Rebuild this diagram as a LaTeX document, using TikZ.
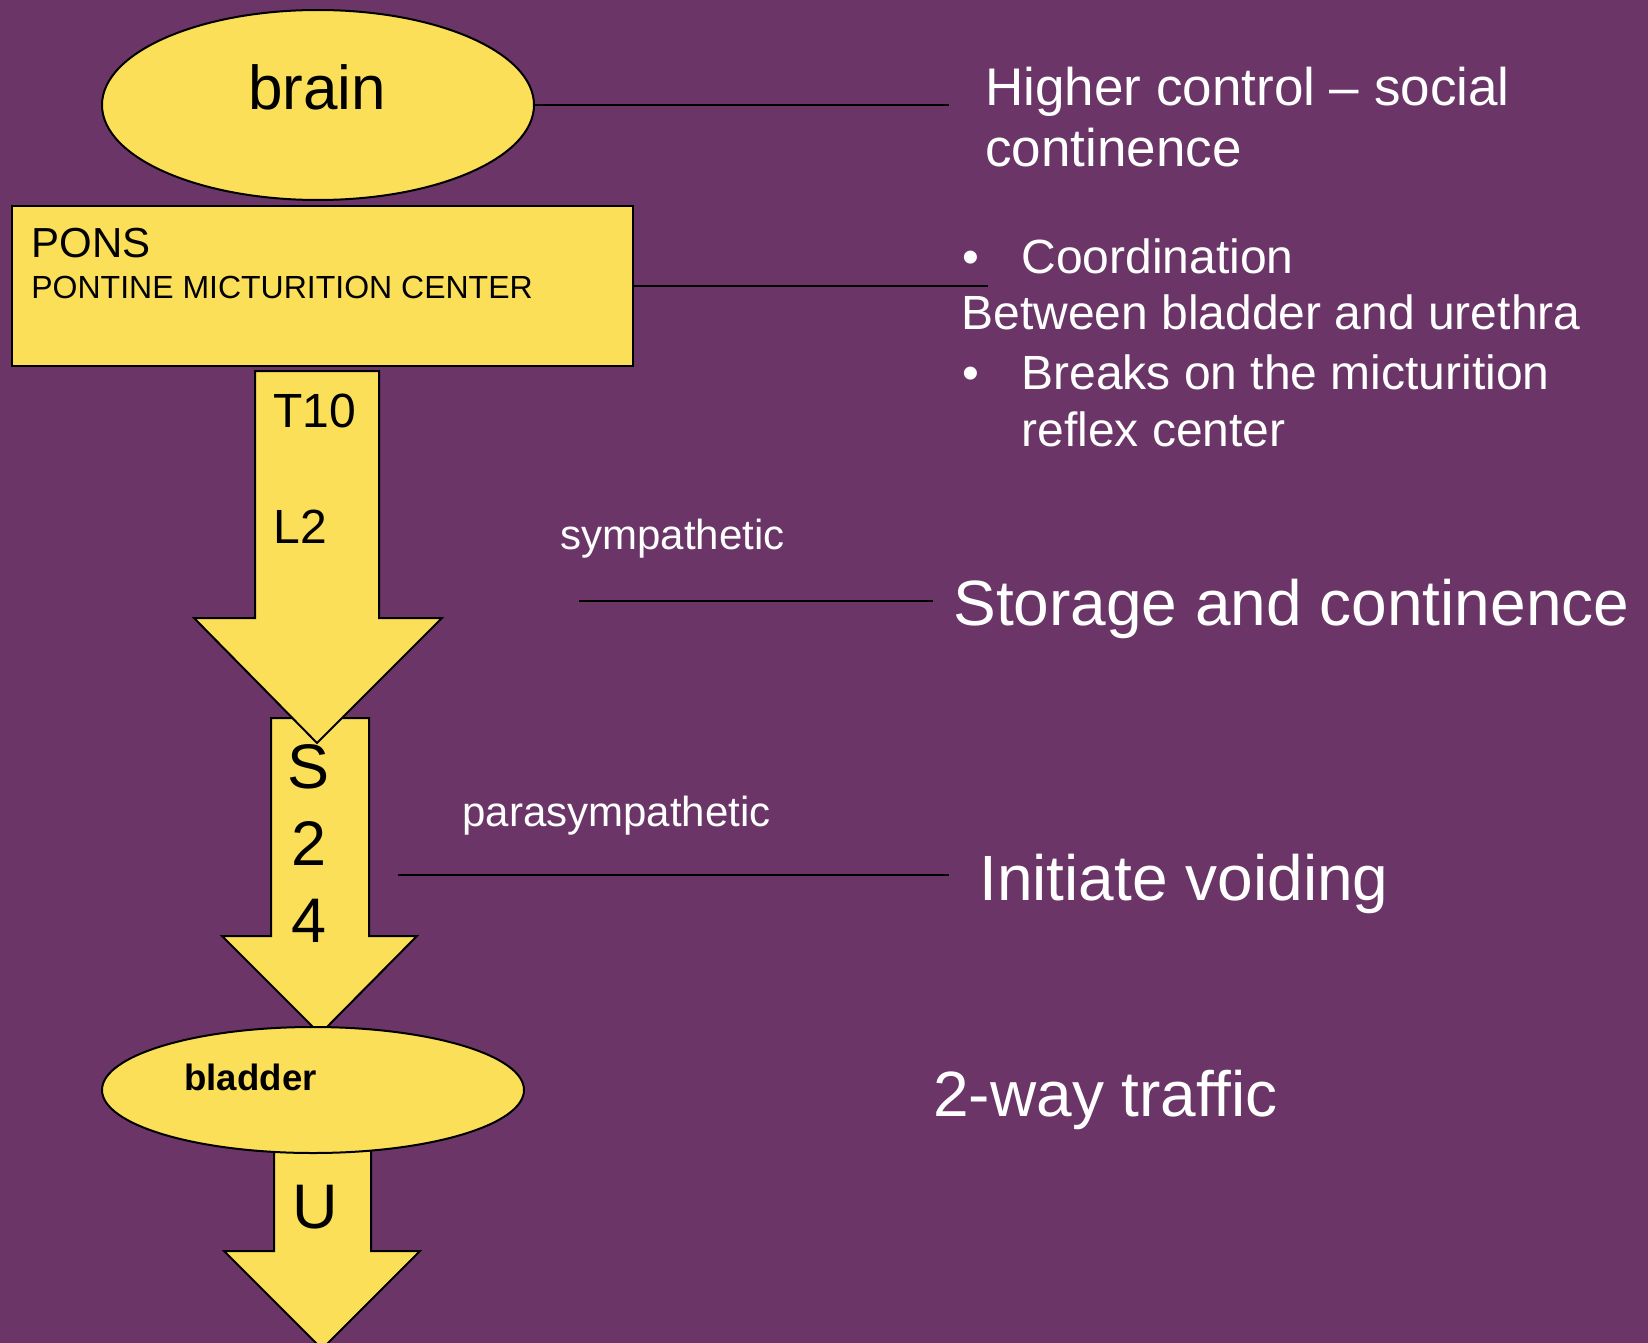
\documentclass[tikz,border=0pt]{standalone}
\usepackage{fontspec}
\setmainfont{Liberation Sans}
\usetikzlibrary{shapes.geometric}
\definecolor{slidePurple}{RGB}{107, 54, 103}
\definecolor{slideYellow}{RGB}{251, 223, 88}
\newcommand{\sizeHuge}{\fontsize{32}{38}\selectfont}
\newcommand{\sizeBrain}{\fontsize{31}{37}\selectfont}
\newcommand{\sizeSpine}{\fontsize{31.5}{37}\selectfont}
\newcommand{\sizeNote}{\fontsize{26.5}{31}\selectfont}
\newcommand{\sizeList}{\fontsize{24}{29}\selectfont}
\newcommand{\sizeSmall}{\fontsize{21}{25}\selectfont}
\newcommand{\sizeTiny}{\fontsize{16}{19}\selectfont}
\newcommand{\sizeBladder}{\fontsize{18.3}{22}\selectfont}
\tikzset{
  yellowShape/.style = {draw = black, line width = 1pt, fill = slideYellow},
  whiteText/.style = {text = white, anchor = base west, inner sep = 0pt},
  blackText/.style = {text = black, anchor = base west, inner sep = 0pt},
  thinLine/.style = {draw = black, line width = 1pt},
}

\begin{document}
\begin{tikzpicture}[x = .5pt, y = -.5pt]
\useasboundingbox (0, 0) rectangle (1648, 1343);
\fill[slidePurple] (0, 0) rectangle (1648, 1343);

% spinal arrows
\filldraw[yellowShape] (271, 718) -- (369, 718) -- (369, 936) -- (417, 936) -- (320, 1034)
  -- (222, 936) -- (271, 936) -- cycle;
\filldraw[yellowShape] (255, 371) -- (379, 371) -- (379, 618) -- (442, 618) -- (317, 743)
  -- (194, 618) -- (255, 618) -- cycle;
\filldraw[yellowShape] (274, 1140) -- (371, 1140) -- (371, 1251) -- (420, 1251) -- (322, 1349)
  -- (224, 1251) -- (274, 1251) -- cycle;

\node (brain) at (318, 105) [ellipse, yellowShape, inner sep = 0pt, minimum width = 216pt, minimum height = 95pt] {};
\node (brainText) at (317, 110) [anchor = base, inner sep = 0pt] {\sizeBrain brain};

\node (pons) at (322.5, 286) [rectangle, yellowShape, inner sep = 0pt, minimum width = 310.5pt, minimum height = 80pt] {};
\node (ponsText) at (31, 257.5) [blackText] {\sizeSmall PONS};
\node (pmcText) at (31, 298.5) [blackText] {\sizeTiny PONTINE MICTURITION CENTER};

\node (bladder) at (313, 1090) [ellipse, yellowShape, inner sep = 0pt, minimum width = 211pt, minimum height = 63pt] {};
\node (bladderText) at (184, 1090) [blackText] {\sizeBladder\bfseries bladder};

\node (tTen) at (273, 427) [blackText] {\sizeList T10};
\node (lTwo) at (273, 543) [blackText] {\sizeList L2};
\node (sS) at (309, 788) [anchor = base, inner sep = 0pt] {\sizeSpine S};
\node (sTwo) at (309, 865) [anchor = base, inner sep = 0pt] {\sizeSpine 2};
\node (sFour) at (309, 942) [anchor = base, inner sep = 0pt] {\sizeSpine 4};
\node (uText) at (315, 1228) [anchor = base, inner sep = 0pt] {\sizeSpine U};

% right hand notes
\node (higher) at (985, 105) [whiteText] {\sizeNote Higher control -- social};
\node (higherTwo) at (985, 166) [whiteText] {\sizeNote continence};

\node (dotOne) at (962, 273) [whiteText] {\sizeList \textbullet};
\node (coord) at (1021, 273) [whiteText] {\sizeList Coordination};
\node (between) at (961, 329) [whiteText] {\sizeList Between bladder and urethra};
\node (dotTwo) at (962, 389) [whiteText] {\sizeList \textbullet};
\node (breaks) at (1021, 389) [whiteText] {\sizeList Breaks on the micturition};
\node (reflex) at (1021, 446) [whiteText] {\sizeList reflex center};

\node (symp) at (560, 549) [whiteText] {\sizeSmall sympathetic};
\node (storage) at (953, 625) [whiteText] {\sizeHuge Storage and continence};
\node (parasymp) at (462, 826) [whiteText] {\sizeSmall parasympathetic};
\node (voiding) at (979, 900) [whiteText] {\sizeHuge Initiate voiding};
\node (traffic) at (933, 1116) [whiteText] {\sizeHuge 2-way traffic};

% connector lines
\coordinate (brainEnd) at (949, 105);
\coordinate (ponsEnd) at (988, 286);
\coordinate (sympStart) at (579, 601);
\coordinate (sympEnd) at (933, 601);
\coordinate (paraStart) at (398, 875);
\coordinate (paraEnd) at (949, 875);
\draw[thinLine] (brain.east) -- (brainEnd);
\draw[thinLine] (pons.east) -- (ponsEnd);
\draw[thinLine] (sympStart) -- (sympEnd);
\draw[thinLine] (paraStart) -- (paraEnd);

\end{tikzpicture}
\end{document}
